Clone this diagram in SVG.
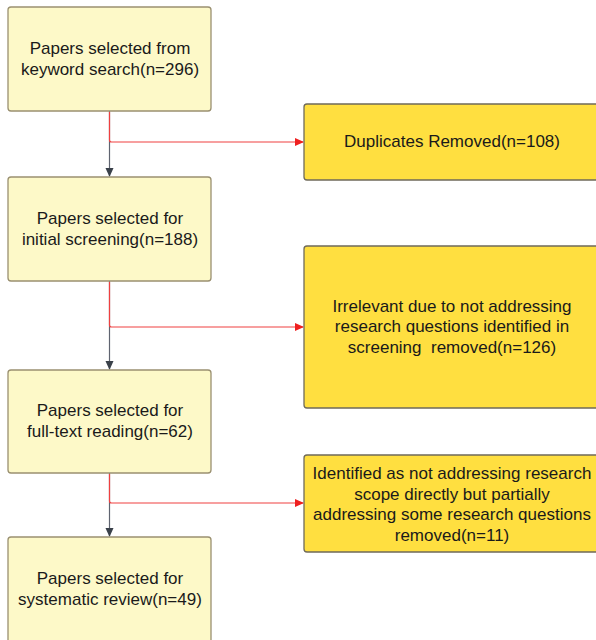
<svg xmlns="http://www.w3.org/2000/svg" width="596" height="640" viewBox="0 0 596 640">
<style>
.l{fill:#FDF9C8;stroke:#9A9070;stroke-width:1.3}
.r{fill:#FFDF40;stroke:#6F6A5A;stroke-width:1.3}
text{font-family:"Liberation Sans",Arial,sans-serif;font-size:17px;fill:#1a1a1a;text-anchor:middle}
.g{stroke:#5f6470;stroke-width:1.2;fill:none}
.red{stroke:#EF4040;stroke-width:1.2;fill:none}
</style>
<defs>
<marker id="ag" markerWidth="10" markerHeight="10" refX="8" refY="5" orient="auto" markerUnits="userSpaceOnUse"><path d="M0,1 L9,5 L0,9 Z" fill="#3a414a"/></marker>
<marker id="ar" markerWidth="10" markerHeight="10" refX="8" refY="5" orient="auto" markerUnits="userSpaceOnUse"><path d="M0,1 L9,5 L0,9 Z" fill="#EF2020"/></marker>
</defs>
<rect width="596" height="640" fill="#fff"/>
<g id="connectors">
<path class="g" d="M109.5,111 V176" marker-end="url(#ag)"/>
<path class="red" d="M109.5,112 V140 Q109.5,142 111.5,142 H303" marker-end="url(#ar)"/>
<path class="g" d="M109.5,281 V369" marker-end="url(#ag)"/>
<path class="red" d="M109.5,282 V325 Q109.5,327 111.5,327 H303" marker-end="url(#ar)"/>
<path class="g" d="M109.5,473 V536" marker-end="url(#ag)"/>
<path class="red" d="M109.5,474 V501 Q109.5,503 111.5,503 H303" marker-end="url(#ar)"/>
</g>
<g id="n1"><rect class="l" x="8" y="7" width="203" height="104" rx="3"/><text x="110" y="54">Papers selected from</text><text x="110" y="75">keyword search(n=296)</text></g>
<g id="n2"><rect class="l" x="8" y="177" width="203" height="104" rx="3"/><text x="110" y="224">Papers selected for</text><text x="110" y="245">initial screening(n=188)</text></g>
<g id="n3"><rect class="l" x="8" y="370" width="203" height="103" rx="3"/><text x="110" y="416">Papers selected for</text><text x="110" y="437">full-text reading(n=62)</text></g>
<g id="n4"><rect class="l" x="8" y="537" width="203" height="110" rx="3"/><text x="110" y="584">Papers selected for</text><text x="110" y="605">systematic review(n=49)</text></g>
<g id="d1"><rect class="r" x="304" y="104" width="300" height="76" rx="3"/><text x="452" y="147">Duplicates Removed(n=108)</text></g>
<g id="d2"><rect class="r" x="304" y="246" width="300" height="162" rx="3"/><text x="452" y="312">Irrelevant due to not addressing</text><text x="452" y="332">research questions identified in</text><text x="452" y="353" xml:space="preserve">screening  removed(n=126)</text></g>
<g id="d3"><rect class="r" x="304" y="455" width="300" height="97" rx="3"/><text x="452" y="479">Identified as not addressing research</text><text x="452" y="500">scope directly but partially</text><text x="452" y="520">addressing some research questions</text><text x="452" y="541">removed(n=11)</text></g>
</svg>
